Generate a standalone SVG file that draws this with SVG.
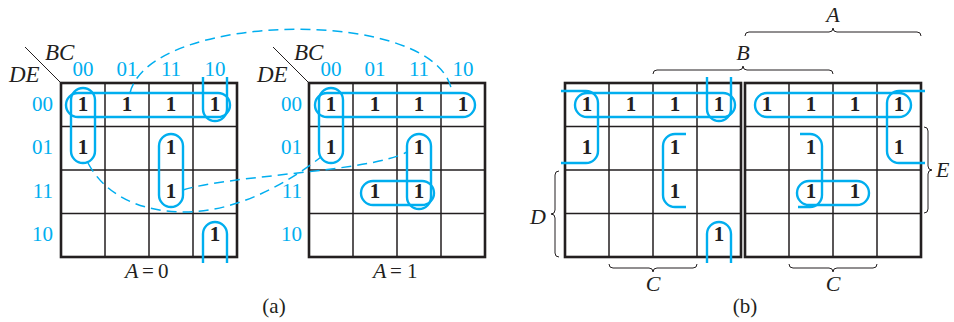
<svg xmlns="http://www.w3.org/2000/svg" width="954" height="322" viewBox="0 0 954 322">
<style>
.bg{fill:#ffffff}
.outer{fill:none;stroke:#231f20;stroke-width:2.6}
.inner{fill:none;stroke:#231f20;stroke-width:1.5}
.loop{fill:none;stroke:#00aeef;stroke-width:2.4}
.dash{fill:none;stroke:#00aeef;stroke-width:1.5;stroke-dasharray:10 6}
.one{font-family:"Liberation Serif",serif;font-weight:bold;font-size:21px;text-anchor:middle;fill:#231f20}
.lbl{font-family:"Liberation Serif",serif;font-size:21px;fill:#00aeef}
.col{text-anchor:middle}
.row{text-anchor:end}
.var{font-family:"Liberation Serif",serif;font-style:italic;font-size:22px;fill:#231f20}
.big{font-size:23px}
.txt{font-family:"Liberation Serif",serif;font-size:21px;fill:#231f20}
.brace{fill:none;stroke:#231f20;stroke-width:1}
.diag{stroke:#231f20;stroke-width:1}
</style>
<rect class="bg" x="0" y="0" width="954" height="322"/>

<!-- Map (a) A=0 -->
<g id="mapA0">
  <line class="diag" x1="25" y1="47" x2="61" y2="83"/>
  <text class="var big" x="45" y="60">BC</text>
  <text class="var big" x="9" y="82">DE</text>
  <text class="lbl col" x="83" y="76">00</text>
  <text class="lbl col" x="127" y="76">01</text>
  <text class="lbl col" x="171" y="76">11</text>
  <text class="lbl col" x="215" y="76">10</text>
  <text class="lbl row" x="53" y="111">00</text>
  <text class="lbl row" x="53" y="154">01</text>
  <text class="lbl row" x="53" y="198">11</text>
  <text class="lbl row" x="53" y="241">10</text>
  <path class="inner" d="M105,83V257M149,83V257M193,83V257M61,126.5H237M61,170H237M61,213.5H237"/>
  <rect class="outer" x="61" y="83" width="176" height="174"/>
  <text class="one" x="83" y="111">1</text>
  <text class="one" x="127" y="111">1</text>
  <text class="one" x="171" y="111">1</text>
  <text class="one" x="215" y="111">1</text>
  <text class="one" x="83" y="154">1</text>
  <text class="one" x="171" y="154">1</text>
  <text class="one" x="171" y="198">1</text>
  <text class="one" x="215" y="241">1</text>
  <text class="var" x="125" y="278">A</text>
  <text class="txt" x="142" y="278">=</text>
  <text class="txt" x="158" y="278">0</text>
</g>
<g id="loopsA0">
  <rect class="loop" x="66" y="93" width="164" height="24" rx="12"/>
  <rect class="loop" x="71" y="88" width="24" height="75" rx="12"/>
  <path class="loop" d="M203,77V109A12,12 0 0 0 227,109V77"/>
  <rect class="loop" x="159" y="134" width="24" height="73" rx="12"/>
  <path class="loop" d="M203,263V234A12,12 0 0 1 227,234V263"/>
</g>

<!-- Map (a) A=1 -->
<g id="mapA1">
  <line class="diag" x1="273" y1="47" x2="309" y2="83"/>
  <text class="var big" x="294" y="60">BC</text>
  <text class="var big" x="257" y="82">DE</text>
  <text class="lbl col" x="331" y="76">00</text>
  <text class="lbl col" x="375" y="76">01</text>
  <text class="lbl col" x="419" y="76">11</text>
  <text class="lbl col" x="463" y="76">10</text>
  <text class="lbl row" x="302" y="111">00</text>
  <text class="lbl row" x="302" y="154">01</text>
  <text class="lbl row" x="302" y="198">11</text>
  <text class="lbl row" x="302" y="241">10</text>
  <path class="inner" d="M353,83V257M397,83V257M441,83V257M309,126.5H485M309,170H485M309,213.5H485"/>
  <rect class="outer" x="309" y="83" width="176" height="174"/>
  <text class="one" x="331" y="111">1</text>
  <text class="one" x="375" y="111">1</text>
  <text class="one" x="419" y="111">1</text>
  <text class="one" x="463" y="111">1</text>
  <text class="one" x="331" y="154">1</text>
  <text class="one" x="419" y="154">1</text>
  <text class="one" x="375" y="198">1</text>
  <text class="one" x="419" y="198">1</text>
  <text class="var" x="373" y="278">A</text>
  <text class="txt" x="390" y="278">=</text>
  <text class="txt" x="407" y="278">1</text>
</g>
<g id="loopsA1">
  <rect class="loop" x="315" y="93" width="160" height="24" rx="12"/>
  <rect class="loop" x="319" y="88" width="24" height="75" rx="12"/>
  <rect class="loop" x="407" y="134" width="24" height="75" rx="12"/>
  <rect class="loop" x="361" y="181" width="73" height="24" rx="12"/>
</g>

<g id="connectors">
  <path class="dash" d="M130,93C150,10 442,6 452,93"/>
  <path class="dash" d="M88,163C105,195 140,212 185,212C235,212 285,185 321,157"/>
  <path class="dash" d="M183,190C230,175 370,172 407,152"/>
</g>

<text class="txt" x="274" y="313" text-anchor="middle">(a)</text>

<!-- Map (b) -->
<g id="mapB">
  <path class="inner" d="M609,83V257M653,83V257M697,83V257M565,126.5H741M565,170H741M565,213.5H741"/>
  <rect class="outer" x="565" y="83" width="176" height="174"/>
  <path class="inner" d="M789,83V257M833,83V257M877,83V257M745,126.5H921M745,170H921M745,213.5H921"/>
  <rect class="outer" x="745" y="83" width="176" height="174"/>
  <text class="one" x="587" y="111">1</text>
  <text class="one" x="631" y="111">1</text>
  <text class="one" x="675" y="111">1</text>
  <text class="one" x="719" y="111">1</text>
  <text class="one" x="587" y="154">1</text>
  <text class="one" x="675" y="154">1</text>
  <text class="one" x="675" y="198">1</text>
  <text class="one" x="719" y="241">1</text>
  <text class="one" x="767" y="111">1</text>
  <text class="one" x="811" y="111">1</text>
  <text class="one" x="855" y="111">1</text>
  <text class="one" x="899" y="111">1</text>
  <text class="one" x="811" y="154">1</text>
  <text class="one" x="899" y="154">1</text>
  <text class="one" x="811" y="198">1</text>
  <text class="one" x="855" y="198">1</text>
</g>
<g id="loopsB">
  <rect class="loop" x="575" y="93" width="160" height="24" rx="12"/>
  <path class="loop" d="M561,91H586A12,12 0 0 1 598,103V151A12,12 0 0 1 586,163H561"/>
  <path class="loop" d="M707,77V109A12,12 0 0 0 731,109V77"/>
  <path class="loop" d="M686,134H675A12,12 0 0 0 663,146V195A12,12 0 0 0 675,207H686"/>
  <path class="loop" d="M707,263V234A12,12 0 0 1 731,234V263"/>
  <rect class="loop" x="755" y="93" width="156" height="24" rx="12"/>
  <path class="loop" d="M925,91H899A12,12 0 0 0 887,103V151A12,12 0 0 0 899,163H925"/>
  <path class="loop" d="M800,134H810A12,12 0 0 1 822,146V195A12,12 0 0 1 810,207H798"/>
  <rect class="loop" x="797" y="181" width="72" height="24" rx="12"/>
</g>
<g id="braces">
  <path class="brace" d="M745,36Q745,32 749,32H829Q833,32 833,28Q833,32 837,32H917Q921,32 921,36"/>
  <text class="var" x="833" y="22" text-anchor="middle">A</text>
  <path class="brace" d="M653,74Q653,70 657,70H739Q743,70 743,66Q743,70 747,70H829Q833,70 833,74"/>
  <text class="var" x="743" y="60" text-anchor="middle">B</text>
  <path class="brace" d="M609,264Q609,268 613,268H649Q653,268 653,272Q653,268 657,268H693Q697,268 697,264"/>
  <text class="var" x="653" y="291" text-anchor="middle">C</text>
  <path class="brace" d="M789,264Q789,268 793,268H829Q833,268 833,272Q833,268 837,268H873Q877,268 877,264"/>
  <text class="var" x="833" y="291" text-anchor="middle">C</text>
  <path class="brace" d="M924,127Q928,127 928,131V166Q928,170 932,170Q928,170 928,174V209Q928,213 924,213"/>
  <text class="var" x="936" y="177">E</text>
  <path class="brace" d="M559,171Q555,171 555,175V210Q555,214 551,214Q555,214 555,218V253Q555,257 559,257"/>
  <text class="var" x="546" y="224" text-anchor="end">D</text>
</g>
<text class="txt" x="745" y="313" text-anchor="middle">(b)</text>
</svg>
